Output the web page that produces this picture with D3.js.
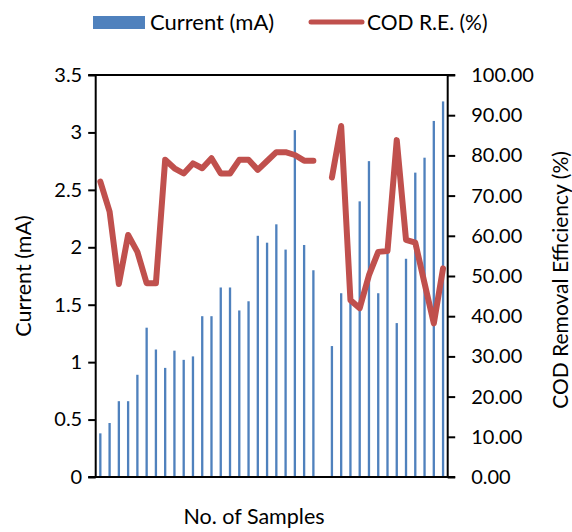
<!DOCTYPE html>
<html>
<head>
<meta charset="utf-8">
<script src="https://cdn.jsdelivr.net/npm/d3@7"></script>
<style>
  body { margin: 0; background: #fff; }
  text { font-family: Lato, "Open Sans", sans-serif; fill: #000; }
</style>
</head>
<body>
<div id="chart"></div>
<script>
// sample numbers 1..38 (sample 25 is missing)
const samples = d3.range(1, 39);

const currentMA = [
  0.38, 0.47, 0.66, 0.66, 0.89, 1.30, 1.11, 0.95, 1.10, 1.02,
  1.05, 1.40, 1.40, 1.65, 1.65, 1.45, 1.53, 2.10, 2.04, 2.20,
  1.98, 3.02, 2.02, 1.80, null, 1.14, 1.60, 1.55, 2.40, 2.75,
  1.60, 2.00, 1.34, 1.90, 2.65, 2.78, 3.10, 3.27
];

const codRE = [
  73.5, 66.0, 48.0, 60.2, 56.0, 48.2, 48.2, 78.9, 76.8, 75.5,
  78.0, 76.8, 79.3, 75.5, 75.5, 78.9, 78.9, 76.4, 78.6, 80.8,
  80.8, 80.1, 78.7, 78.7, null, 74.5, 87.3, 44.0, 42.0, 50.2,
  56.0, 56.2, 83.8, 59.0, 58.3, 48.2, 38.2, 51.9
];

const leftTicks = [0, 0.5, 1, 1.5, 2, 2.5, 3, 3.5];
const rightTicks = [0, 10, 20, 30, 40, 50, 60, 70, 80, 90, 100];

const width = 572, height = 532;
const margin = { top: 75, right: 124.3, bottom: 55, left: 95.7 };
const plotW = width - margin.left - margin.right;
const plotH = height - margin.top - margin.bottom;

const svg = d3.select("#chart")
    .append("svg")
    .attr("width", width)
    .attr("height", height);

const g = svg.append("g")
    .attr("transform", `translate(${margin.left}, ${margin.top})`);

const x = d3.scaleBand()
    .domain(samples)
    .range([0, plotW])
    .paddingInner(0.75)
    .paddingOuter(0.375);

const yLeft = d3.scaleLinear().domain([0, 3.5]).range([plotH, 0]);
const yRight = d3.scaleLinear().domain([0, 100]).range([plotH, 0]);

const blue = "#4f81bd", red = "#c0504d";

// top border line
g.append("line")
    .attr("x1", -7.5).attr("x2", plotW + 7.5)
    .attr("y1", 0).attr("y2", 0)
    .attr("stroke", "#000").attr("stroke-width", 2);

// bars
g.selectAll(".bar")
    .data(samples.filter((d, i) => currentMA[i] != null))
    .enter()
    .append("rect")
    .attr("class", "bar")
    .attr("x", d => x(d))
    .attr("y", d => yLeft(currentMA[d - 1]))
    .attr("width", x.bandwidth())
    .attr("height", d => plotH - yLeft(currentMA[d - 1]))
    .attr("fill", blue);

// COD line (gap at missing sample)
const line = d3.line()
    .defined(d => codRE[d - 1] != null)
    .x(d => x(d) + x.bandwidth() / 2)
    .y(d => yRight(codRE[d - 1]));

g.append("path")
    .datum(samples)
    .attr("d", line)
    .attr("fill", "none")
    .attr("stroke", red)
    .attr("stroke-width", 6)
    .attr("stroke-linejoin", "round")
    .attr("stroke-linecap", "round");

// axes
const leftAxis = g.append("g")
    .call(d3.axisLeft(yLeft).tickValues(leftTicks).tickSize(7.5).tickPadding(6)
        .tickFormat(d3.format("")));
const rightAxis = g.append("g")
    .attr("transform", `translate(${plotW}, 0)`)
    .call(d3.axisRight(yRight).tickValues(rightTicks).tickSize(7.5).tickPadding(16)
        .tickFormat(d3.format(".2f")));
const bottomAxis = g.append("g")
    .attr("transform", `translate(0, ${plotH})`)
    .call(d3.axisBottom(x).tickSize(0).tickFormat(""));

[leftAxis, rightAxis, bottomAxis].forEach(a => {
    a.select(".domain").attr("stroke", "#000").attr("stroke-width", 2);
    a.selectAll(".tick line").attr("stroke", "#000").attr("stroke-width", 2);
    a.selectAll(".tick text").style("font-size", "20px");
});
leftAxis.select(".domain").attr("d", `M0,0V${plotH}`);
rightAxis.select(".domain").attr("d", `M0,0V${plotH}`);
bottomAxis.select(".domain").attr("d", `M-7.5,0H${plotW + 7.5}`);

// axis titles
svg.append("text")
    .attr("transform", `translate(31, ${margin.top + plotH / 2}) rotate(-90)`)
    .style("text-anchor", "middle")
    .style("font-size", "21.5px")
    .text("Current (mA)");

svg.append("text")
    .attr("transform", `translate(568, ${margin.top + plotH / 2 + 4}) rotate(-90)`)
    .style("text-anchor", "middle")
    .style("font-size", "21px")
    .text("COD Removal Efficiency (%)");

svg.append("text")
    .attr("x", 254)
    .attr("y", 524)
    .style("text-anchor", "middle")
    .style("font-size", "21.5px")
    .text("No. of Samples");

// legend
const legend = svg.append("g");
legend.append("rect")
    .attr("x", 93).attr("y", 16).attr("width", 52).attr("height", 13)
    .attr("fill", blue);
legend.append("text")
    .attr("x", 150).attr("y", 29.5)
    .style("font-size", "22px")
    .text("Current (mA)");
legend.append("line")
    .attr("x1", 311).attr("x2", 362).attr("y1", 22).attr("y2", 22)
    .attr("stroke", red).attr("stroke-width", 5).attr("stroke-linecap", "round");
legend.append("text")
    .attr("x", 367).attr("y", 29.5)
    .style("font-size", "21px")
    .text("COD R.E. (%)");
</script>
</body>
</html>
